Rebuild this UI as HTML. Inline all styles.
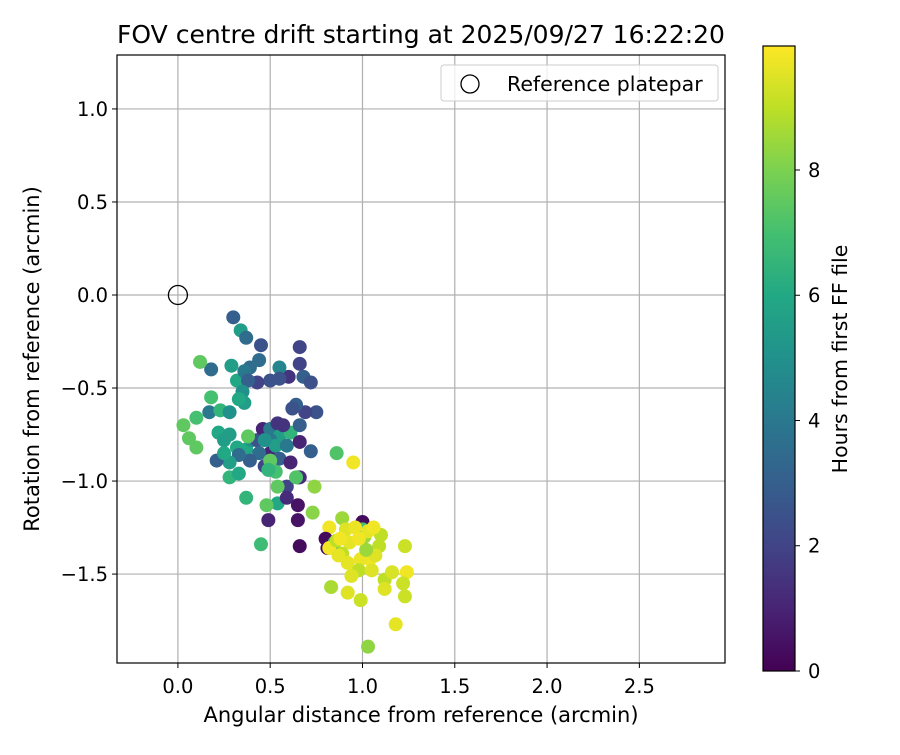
<!DOCTYPE html>
<html><head><meta charset="utf-8"><style>
body{margin:0;background:#fff;}
svg text{font-family:"DejaVu Sans","Liberation Sans",sans-serif;fill:#000;}
</style></head><body>
<svg id="chart" width="900" height="750" xmlns="http://www.w3.org/2000/svg">
<defs>
<linearGradient id="vir" x1="0" y1="1" x2="0" y2="0">
<stop offset="0" stop-color="#440154"/><stop offset="0.1" stop-color="#482475"/><stop offset="0.2" stop-color="#414487"/><stop offset="0.3" stop-color="#355f8d"/><stop offset="0.4" stop-color="#2a788e"/><stop offset="0.5" stop-color="#21918c"/><stop offset="0.6" stop-color="#22a884"/><stop offset="0.7" stop-color="#44bf70"/><stop offset="0.8" stop-color="#7ad151"/><stop offset="0.9" stop-color="#bddf26"/><stop offset="1" stop-color="#fde725"/>
</linearGradient>
<clipPath id="clip"><rect x="117" y="55" width="608" height="608"/></clipPath>
</defs>
<text x="421" y="43" font-size="25" text-anchor="middle">FOV centre drift starting at 2025/09/27 16:22:20</text>
<g id="grid"></g>
<g id="pts" clip-path="url(#clip)"></g>
<rect x="117" y="55" width="608" height="608" fill="none" stroke="#000" stroke-width="1.2"/>
<g id="ticks"></g>
<text x="421" y="722" font-size="21" text-anchor="middle">Angular distance from reference (arcmin)</text>
<text transform="translate(39,359) rotate(-90)" font-size="21" text-anchor="middle">Rotation from reference (arcmin)</text>
<g>
<rect x="441" y="65" width="277" height="36" rx="3" fill="#fff" fill-opacity="0.8" stroke="#ccc"/>
<circle cx="470" cy="84" r="9" fill="none" stroke="#000" stroke-width="1.3"/>
<text x="507" y="91" font-size="20.5">Reference platepar</text>
</g>
<rect x="763" y="46" width="32" height="625" fill="url(#vir)" stroke="#000" stroke-width="1.2"/>
<g id="cbticks"></g>
<text transform="translate(847,359) rotate(-90)" font-size="20.5" text-anchor="middle">Hours from first FF file</text>
</svg>
<script>
const xs=[.30,.34,.37,.45,.66,.66,.68,.60,.18,.12,.44,.39,.29,.32,.36,.55,.55,.50,.43,.38,.35,.72,.75,.69,.64,.62,.18,.17,.23,.28,.36,.33,.10,.03,.06,.10,.22,.28,.25,.32,.37,.40,.43,.46,.50,.54,.55,.61,.66,.57,.50,.50,.53,.47,.59,.55,.44,.47,.50,.53,.49,.66,.72,.65,.61,.39,.33,.28,.21,.28,.33,.25,.38,.66,.59,.54,.64,.86,.95,.74,.37,.54,.59,.65,.49,.48,.73,.65,.66,.45,.89,.82,.80,.81,.85,.82,.86,1.00,1.00,.91,.96,1.01,.93,.89,1.10,.92,1.04,1.09,.99,.98,.94,1.05,1.07,1.12,1.16,1.23,1.24,1.22,1.12,1.23,.83,.92,.99,1.18,1.03,1.03,1.06,1.02,.88,.98,.87];
const ys=[-.12,-.19,-.23,-.27,-.28,-.37,-.44,-.44,-.40,-.36,-.35,-.39,-.38,-.46,-.41,-.39,-.45,-.46,-.47,-.46,-.52,-.47,-.63,-.63,-.59,-.61,-.55,-.63,-.62,-.63,-.58,-.56,-.66,-.70,-.77,-.82,-.74,-.75,-.78,-.82,-.83,-.78,-.78,-.72,-.72,-.69,-.76,-.74,-.70,-.70,-.85,-.78,-.81,-.78,-.81,-.88,-.85,-.92,-.89,-.95,-.94,-.79,-.84,-.98,-.90,-.89,-.86,-.90,-.89,-.98,-.96,-.85,-.76,-.98,-1.03,-1.03,-.98,-.85,-.90,-1.03,-1.09,-1.12,-1.09,-1.13,-1.21,-1.13,-1.17,-1.21,-1.35,-1.34,-1.20,-1.25,-1.31,-1.36,-1.33,-1.36,-1.32,-1.22,-1.26,-1.26,-1.25,-1.30,-1.33,-1.39,-1.29,-1.44,-1.42,-1.35,-1.42,-1.48,-1.51,-1.48,-1.40,-1.53,-1.49,-1.35,-1.49,-1.55,-1.58,-1.62,-1.57,-1.60,-1.64,-1.77,-1.89,-1.27,-1.25,-1.37,-1.31,-1.31,-1.40];
const hrs=[3,5.5,3.5,2.5,2,2,3,1.5,3.5,7.5,3.5,3.5,5.5,6,4,4.5,2.5,2.5,2,3,5,2.5,2.5,2,3,2.5,7,4,6.5,5,5.5,6,7,7.5,7.5,7.5,6,5.5,5.5,6,6,5,2.5,1,4,1.5,5.5,6.5,3,1.5,1,4,5.5,5,4,3,3.5,2,7.5,7,6.5,1,3,1,1,3,3.5,5.5,3,6.5,6,6,7.5,1.2,2,7.5,7.2,7.2,9.8,8.3,6.5,6,1.2,0.5,1,7.5,8.2,0.5,0.3,6.8,8.5,9.8,0.3,0.3,7,9.8,9,0.3,7,9.5,9.7,8.5,9.6,9,9,9.6,9.8,9,9.7,9,9.5,9.5,9.5,9,9.4,9.2,9.8,9.2,9.5,9.2,8.7,9.5,9.2,9.6,8.3,9.6,9.8,8.5,9.8,9.8,9.6];
const xTicks=[0,0.5,1,1.5,2,2.5];
const xTickLabels=["0.0","0.5","1.0","1.5","2.0","2.5"];
const yTicks=[1,0.5,0,-0.5,-1,-1.5];
const yTickLabels=["1.0","0.5","0.0","\u22120.5","\u22121.0","\u22121.5"];
const cTicks=[0,2,4,6,8];
const cTickLabels=["0","2","4","6","8"];
const X0=117,X1=725,Y0=55,Y1=663,xmin=-0.33,xmax=2.964,ymin=-1.978,ymax=1.29,cmax=9.98;
const sx=v=>X0+(v-xmin)/(xmax-xmin)*(X1-X0);
const sy=v=>Y1-(v-ymin)/(ymax-ymin)*(Y1-Y0);
const sc=v=>671-v/cmax*625;
const V=["#440154","#482475","#414487","#355f8d","#2a788e","#21918c","#22a884","#44bf70","#7ad151","#bddf26","#fde725"];
function hx(c){return [1,3,5].map(i=>parseInt(c.substr(i,2),16));}
function vir(t){t=Math.max(0,Math.min(1,t))*10;const i=Math.min(9,Math.floor(t)),f=t-i;const a=hx(V[i]),b=hx(V[i+1]);return "rgb("+a.map((v,k)=>Math.round(v+(b[k]-v)*f)).join(",")+")";}
const NS="http://www.w3.org/2000/svg";
function mk(tag,attrs,parent){const e=document.createElementNS(NS,tag);for(const k in attrs)e.setAttribute(k,attrs[k]);parent.appendChild(e);return e;}
const grid=document.getElementById('grid'),ticks=document.getElementById('ticks'),pts=document.getElementById('pts'),cb=document.getElementById('cbticks');
xTicks.forEach((v,i)=>{const x=sx(v);
const g=mk('line',{x1:x,x2:x,y1:Y0,y2:Y1,stroke:'#b0b0b0','stroke-width':1.2},grid);


mk('line',{x1:x,x2:x,y1:Y1,y2:Y1+5,stroke:'#000'},ticks);
const t=mk('text',{x:x,y:Y1+30,'font-size':19.5,'text-anchor':'middle'},ticks);t.textContent=xTickLabels[i];

});
yTicks.forEach((v,i)=>{const y=sy(v);
const g=mk('line',{x1:X0,x2:X1,y1:y,y2:y,stroke:'#b0b0b0','stroke-width':1.2},grid);


mk('line',{x1:X0-5,x2:X0,y1:y,y2:y,stroke:'#000'},ticks);
const t=mk('text',{x:X0-9,y:y+7,'font-size':19.5,'text-anchor':'end'},ticks);t.textContent=yTickLabels[i];

});
xs.forEach((v,i)=>{const c=mk('circle',{cx:sx(v),cy:sy(ys[i]),r:7,fill:vir(hrs[i]/cmax)},pts);

});
const ref=mk('circle',{cx:sx(0),cy:sy(0),r:9.5,fill:'none',stroke:'#000','stroke-width':1.3},pts);


cTicks.forEach((v,i)=>{const y=sc(v);
mk('line',{x1:795,x2:800,y1:y,y2:y,stroke:'#000'},cb);
const t=mk('text',{x:808,y:y+7,'font-size':19.5},cb);t.textContent=cTickLabels[i];

});
</script>
</body></html>
